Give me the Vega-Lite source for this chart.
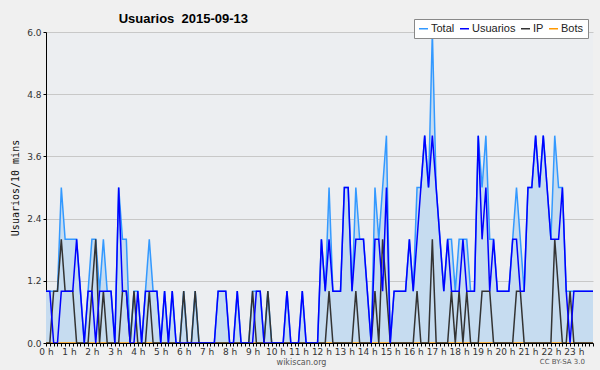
{
"$schema": "https://vega.github.io/schema/vega-lite/v6.json",
"width": 547, "height": 311,
"autosize": {"type": "none"},
"padding": {"left": 46, "top": 32, "right": 7, "bottom": 27},
"background": "#f0f0f0",
"view": {"fill": "#eceef1", "stroke": null},
"title": {"text": "Usuarios\u00a0 2015-09-13", "anchor": "start", "dx": 108, "dy": 16, "offset": 9, "font": "Liberation Sans", "fontSize": 13, "fontWeight": "bold", "color": "#000"},
"data": {"values": [
{"t":0,"Total":1,"Usuarios":1,"IP":0,"Bots":0},{"t":1,"Total":1,"Usuarios":1,"IP":0,"Bots":0},{"t":2,"Total":1,"Usuarios":0,"IP":1,"Bots":0},{"t":3,"Total":1,"Usuarios":0,"IP":1,"Bots":0},{"t":4,"Total":3,"Usuarios":1,"IP":2,"Bots":0},{"t":5,"Total":2,"Usuarios":1,"IP":1,"Bots":0},{"t":6,"Total":2,"Usuarios":1,"IP":1,"Bots":0},{"t":7,"Total":2,"Usuarios":1,"IP":1,"Bots":0},{"t":8,"Total":2,"Usuarios":2,"IP":0,"Bots":0},{"t":9,"Total":1,"Usuarios":1,"IP":0,"Bots":0},
{"t":10,"Total":0,"Usuarios":0,"IP":0,"Bots":0},{"t":11,"Total":1,"Usuarios":1,"IP":0,"Bots":0},{"t":12,"Total":2,"Usuarios":1,"IP":1,"Bots":0},{"t":13,"Total":2,"Usuarios":0,"IP":2,"Bots":0},{"t":14,"Total":1,"Usuarios":1,"IP":0,"Bots":0},{"t":15,"Total":2,"Usuarios":1,"IP":1,"Bots":0},{"t":16,"Total":1,"Usuarios":1,"IP":0,"Bots":0},{"t":17,"Total":1,"Usuarios":1,"IP":0,"Bots":0},{"t":18,"Total":0,"Usuarios":0,"IP":0,"Bots":0},{"t":19,"Total":3,"Usuarios":3,"IP":0,"Bots":0},
{"t":20,"Total":2,"Usuarios":1,"IP":1,"Bots":0},{"t":21,"Total":2,"Usuarios":1,"IP":1,"Bots":0},{"t":22,"Total":0,"Usuarios":0,"IP":0,"Bots":0},{"t":23,"Total":1,"Usuarios":0,"IP":1,"Bots":0},{"t":24,"Total":1,"Usuarios":1,"IP":0,"Bots":0},{"t":25,"Total":0,"Usuarios":0,"IP":0,"Bots":0},{"t":26,"Total":1,"Usuarios":1,"IP":0,"Bots":0},{"t":27,"Total":2,"Usuarios":1,"IP":1,"Bots":0},{"t":28,"Total":1,"Usuarios":1,"IP":0,"Bots":0},{"t":29,"Total":1,"Usuarios":1,"IP":0,"Bots":0},
{"t":30,"Total":0,"Usuarios":0,"IP":0,"Bots":0},{"t":31,"Total":1,"Usuarios":1,"IP":0,"Bots":0},{"t":32,"Total":0,"Usuarios":0,"IP":0,"Bots":0},{"t":33,"Total":1,"Usuarios":1,"IP":0,"Bots":0},{"t":34,"Total":0,"Usuarios":0,"IP":0,"Bots":0},{"t":35,"Total":0,"Usuarios":0,"IP":0,"Bots":0},{"t":36,"Total":1,"Usuarios":0,"IP":1,"Bots":0},{"t":37,"Total":0,"Usuarios":0,"IP":0,"Bots":0},{"t":38,"Total":0,"Usuarios":0,"IP":0,"Bots":0},{"t":39,"Total":1,"Usuarios":0,"IP":1,"Bots":0},
{"t":40,"Total":0,"Usuarios":0,"IP":0,"Bots":0},{"t":41,"Total":0,"Usuarios":0,"IP":0,"Bots":0},{"t":42,"Total":0,"Usuarios":0,"IP":0,"Bots":0},{"t":43,"Total":0,"Usuarios":0,"IP":0,"Bots":0},{"t":44,"Total":0,"Usuarios":0,"IP":0,"Bots":0},{"t":45,"Total":1,"Usuarios":1,"IP":0,"Bots":0},{"t":46,"Total":1,"Usuarios":1,"IP":0,"Bots":0},{"t":47,"Total":1,"Usuarios":1,"IP":0,"Bots":0},{"t":48,"Total":0,"Usuarios":0,"IP":0,"Bots":0},{"t":49,"Total":0,"Usuarios":0,"IP":0,"Bots":0},
{"t":50,"Total":1,"Usuarios":1,"IP":0,"Bots":0},{"t":51,"Total":0,"Usuarios":0,"IP":0,"Bots":0},{"t":52,"Total":0,"Usuarios":0,"IP":0,"Bots":0},{"t":53,"Total":0,"Usuarios":0,"IP":0,"Bots":0},{"t":54,"Total":1,"Usuarios":0,"IP":1,"Bots":0},{"t":55,"Total":1,"Usuarios":1,"IP":0,"Bots":0},{"t":56,"Total":1,"Usuarios":1,"IP":0,"Bots":0},{"t":57,"Total":0,"Usuarios":0,"IP":0,"Bots":0},{"t":58,"Total":1,"Usuarios":0,"IP":1,"Bots":0},{"t":59,"Total":0,"Usuarios":0,"IP":0,"Bots":0},
{"t":60,"Total":0,"Usuarios":0,"IP":0,"Bots":0},{"t":61,"Total":0,"Usuarios":0,"IP":0,"Bots":0},{"t":62,"Total":0,"Usuarios":0,"IP":0,"Bots":0},{"t":63,"Total":1,"Usuarios":1,"IP":0,"Bots":0},{"t":64,"Total":0,"Usuarios":0,"IP":0,"Bots":0},{"t":65,"Total":0,"Usuarios":0,"IP":0,"Bots":0},{"t":66,"Total":0,"Usuarios":0,"IP":0,"Bots":0},{"t":67,"Total":1,"Usuarios":1,"IP":0,"Bots":0},{"t":68,"Total":0,"Usuarios":0,"IP":0,"Bots":0},{"t":69,"Total":0,"Usuarios":0,"IP":0,"Bots":0},
{"t":70,"Total":0,"Usuarios":0,"IP":0,"Bots":0},{"t":71,"Total":0,"Usuarios":0,"IP":0,"Bots":0},{"t":72,"Total":2,"Usuarios":2,"IP":0,"Bots":0},{"t":73,"Total":1,"Usuarios":1,"IP":0,"Bots":0},{"t":74,"Total":3,"Usuarios":2,"IP":1,"Bots":0},{"t":75,"Total":1,"Usuarios":1,"IP":0,"Bots":0},{"t":76,"Total":1,"Usuarios":1,"IP":0,"Bots":0},{"t":77,"Total":1,"Usuarios":1,"IP":0,"Bots":0},{"t":78,"Total":3,"Usuarios":3,"IP":0,"Bots":0},{"t":79,"Total":3,"Usuarios":3,"IP":0,"Bots":0},
{"t":80,"Total":1,"Usuarios":1,"IP":0,"Bots":0},{"t":81,"Total":3,"Usuarios":2,"IP":1,"Bots":0},{"t":82,"Total":2,"Usuarios":2,"IP":0,"Bots":0},{"t":83,"Total":2,"Usuarios":2,"IP":0,"Bots":0},{"t":84,"Total":1,"Usuarios":1,"IP":0,"Bots":0},{"t":85,"Total":0,"Usuarios":0,"IP":0,"Bots":0},{"t":86,"Total":3,"Usuarios":2,"IP":1,"Bots":0},{"t":87,"Total":2,"Usuarios":2,"IP":0,"Bots":0},{"t":88,"Total":3,"Usuarios":1,"IP":2,"Bots":0},{"t":89,"Total":4,"Usuarios":3,"IP":1,"Bots":0},
{"t":90,"Total":0,"Usuarios":0,"IP":0,"Bots":0},{"t":91,"Total":1,"Usuarios":1,"IP":0,"Bots":0},{"t":92,"Total":1,"Usuarios":1,"IP":0,"Bots":0},{"t":93,"Total":1,"Usuarios":1,"IP":0,"Bots":0},{"t":94,"Total":1,"Usuarios":1,"IP":0,"Bots":0},{"t":95,"Total":2,"Usuarios":2,"IP":0,"Bots":0},{"t":96,"Total":1,"Usuarios":1,"IP":0,"Bots":0},{"t":97,"Total":3,"Usuarios":2,"IP":1,"Bots":0},{"t":98,"Total":3,"Usuarios":3,"IP":0,"Bots":0},{"t":99,"Total":4,"Usuarios":4,"IP":0,"Bots":0},
{"t":100,"Total":3,"Usuarios":3,"IP":0,"Bots":0},{"t":101,"Total":6,"Usuarios":4,"IP":2,"Bots":0},{"t":102,"Total":3,"Usuarios":3,"IP":0,"Bots":0},{"t":103,"Total":2,"Usuarios":2,"IP":0,"Bots":0},{"t":104,"Total":1,"Usuarios":1,"IP":0,"Bots":0},{"t":105,"Total":2,"Usuarios":2,"IP":0,"Bots":0},{"t":106,"Total":2,"Usuarios":1,"IP":1,"Bots":0},{"t":107,"Total":1,"Usuarios":1,"IP":0,"Bots":0},{"t":108,"Total":2,"Usuarios":1,"IP":1,"Bots":0},{"t":109,"Total":2,"Usuarios":2,"IP":0,"Bots":0},
{"t":110,"Total":2,"Usuarios":1,"IP":1,"Bots":0},{"t":111,"Total":1,"Usuarios":1,"IP":0,"Bots":0},{"t":112,"Total":1,"Usuarios":1,"IP":0,"Bots":0},{"t":113,"Total":4,"Usuarios":4,"IP":0,"Bots":0},{"t":114,"Total":3,"Usuarios":2,"IP":1,"Bots":0},{"t":115,"Total":4,"Usuarios":3,"IP":1,"Bots":0},{"t":116,"Total":2,"Usuarios":1,"IP":1,"Bots":0},{"t":117,"Total":2,"Usuarios":2,"IP":0,"Bots":0},{"t":118,"Total":1,"Usuarios":1,"IP":0,"Bots":0},{"t":119,"Total":1,"Usuarios":1,"IP":0,"Bots":0},
{"t":120,"Total":1,"Usuarios":1,"IP":0,"Bots":0},{"t":121,"Total":1,"Usuarios":1,"IP":0,"Bots":0},{"t":122,"Total":2,"Usuarios":2,"IP":0,"Bots":0},{"t":123,"Total":3,"Usuarios":2,"IP":1,"Bots":0},{"t":124,"Total":2,"Usuarios":1,"IP":1,"Bots":0},{"t":125,"Total":1,"Usuarios":1,"IP":0,"Bots":0},{"t":126,"Total":3,"Usuarios":3,"IP":0,"Bots":0},{"t":127,"Total":3,"Usuarios":3,"IP":0,"Bots":0},{"t":128,"Total":4,"Usuarios":4,"IP":0,"Bots":0},{"t":129,"Total":3,"Usuarios":3,"IP":0,"Bots":0},
{"t":130,"Total":4,"Usuarios":4,"IP":0,"Bots":0},{"t":131,"Total":3,"Usuarios":3,"IP":0,"Bots":0},{"t":132,"Total":2,"Usuarios":2,"IP":0,"Bots":0},{"t":133,"Total":4,"Usuarios":2,"IP":2,"Bots":0},{"t":134,"Total":3,"Usuarios":2,"IP":1,"Bots":0},{"t":135,"Total":3,"Usuarios":3,"IP":0,"Bots":0},{"t":136,"Total":1,"Usuarios":1,"IP":0,"Bots":0},{"t":137,"Total":1,"Usuarios":0,"IP":1,"Bots":0},{"t":138,"Total":1,"Usuarios":1,"IP":0,"Bots":0},{"t":139,"Total":1,"Usuarios":1,"IP":0,"Bots":0},
{"t":140,"Total":1,"Usuarios":1,"IP":0,"Bots":0},{"t":141,"Total":1,"Usuarios":1,"IP":0,"Bots":0},{"t":142,"Total":1,"Usuarios":1,"IP":0,"Bots":0},{"t":143,"Total":1,"Usuarios":1,"IP":0,"Bots":0}
]},
"encoding": {
  "x": {"field": "t", "type": "quantitative",
    "scale": {"domain": [0, 143], "nice": false, "zero": false},
    "axis": {
      "values": [0,1,2,3,4,5,6,7,8,9,10,11,12,13,14,15,16,17,18,19,20,21,22,23,24,25,26,27,28,29,30,31,32,33,34,35,36,37,38,39,40,41,42,43,44,45,46,47,48,49,50,51,52,53,54,55,56,57,58,59,60,61,62,63,64,65,66,67,68,69,70,71,72,73,74,75,76,77,78,79,80,81,82,83,84,85,86,87,88,89,90,91,92,93,94,95,96,97,98,99,100,101,102,103,104,105,106,107,108,109,110,111,112,113,114,115,116,117,118,119,120,121,122,123,124,125,126,127,128,129,130,131,132,133,134,135,136,137,138,139,140,141,142,143],
      "labelExpr": "datum.value % 6 == 0 ? (datum.value / 6) + ' h' : ''",
      "labelOverlap": false, "labelFlush": false, "grid": false, "zindex": 1,
      "domainColor": "#000000", "tickColor": "#000000", "tickSize": 3,
      "labelFont": "DejaVu Sans", "labelFontSize": 9, "labelColor": "#333333", "labelPadding": 1,
      "title": "wikiscan.org", "titleFont": "DejaVu Sans", "titleFontSize": 8, "titleFontWeight": "normal", "titleColor": "#555555", "titlePadding": 2, "titleX": 255
    }
  }
},
"layer": [
  {"mark": {"type": "area", "color": "#c6dcf0", "opacity": 1},
   "encoding": {"y": {"field": "Total", "type": "quantitative",
     "scale": {"domain": [0, 6], "nice": false, "zero": true},
     "axis": {
       "values": [0,0.3,0.6,0.9,1.2,1.5,1.8,2.1,2.4,2.7,3.0,3.3,3.6,3.9,4.2,4.5,4.8,5.1,5.4,5.7,6.0],
       "labelExpr": "abs(datum.value/1.2 - round(datum.value/1.2)) < 0.01 ? format(datum.value, '.1f') : ''",
       "grid": true, "gridColor": "#c8c8c8",
       "gridOpacity": {"condition": {"test": "abs(datum.value/1.2 - round(datum.value/1.2)) < 0.01", "value": 1}, "value": 0},
       "domainColor": "#000000", "tickColor": "#000000", "tickSize": 3,
       "labelFont": "DejaVu Sans", "labelFontSize": 9, "labelColor": "#333333", "labelPadding": 2, "labelOverlap": false,
       "title": "Usuarios/10 mins", "titleFont": "DejaVu Sans Mono", "titleFontSize": 10, "titleFontWeight": "normal", "titleColor": "#111111", "titlePadding": 6
     }}}},
  {"transform": [{"fold": ["Total", "Usuarios", "IP", "Bots"], "as": ["serie", "valor"]}, {"filter": "datum.serie == 'Bots'"}],
   "mark": {"type": "line", "strokeWidth": 1.5},
   "encoding": {"y": {"field": "valor", "type": "quantitative"},
     "color": {"field": "serie", "type": "nominal",
       "scale": {"domain": ["Total", "Usuarios", "IP", "Bots"], "range": ["#3399ff", "#0000ff", "#333333", "#ff9900"]},
       "legend": {"orient": "none", "legendX": 368, "legendY": -13, "direction": "horizontal", "title": null,
         "symbolType": "stroke", "symbolSize": 81, "symbolStrokeWidth": 1.5,
         "labelFont": "Liberation Sans", "labelFontSize": 11, "labelColor": "#222222", "labelOffset": 2,
         "fillColor": "#ffffff", "strokeColor": "#888888", "padding": 4, "columnPadding": 2}}}},
  {"transform": [{"fold": ["Total", "Usuarios", "IP", "Bots"], "as": ["serie", "valor"]}, {"filter": "datum.serie == 'Total'"}],
   "mark": {"type": "line", "strokeWidth": 1.5},
   "encoding": {"y": {"field": "valor", "type": "quantitative"}, "color": {"field": "serie", "type": "nominal"}}},
  {"transform": [{"fold": ["Total", "Usuarios", "IP", "Bots"], "as": ["serie", "valor"]}, {"filter": "datum.serie == 'IP'"}],
   "mark": {"type": "line", "strokeWidth": 1.5},
   "encoding": {"y": {"field": "valor", "type": "quantitative"}, "color": {"field": "serie", "type": "nominal"}}},
  {"transform": [{"fold": ["Total", "Usuarios", "IP", "Bots"], "as": ["serie", "valor"]}, {"filter": "datum.serie == 'Usuarios'"}],
   "mark": {"type": "line", "strokeWidth": 1.5},
   "encoding": {"y": {"field": "valor", "type": "quantitative"}, "color": {"field": "serie", "type": "nominal"}}},
  {"transform": [{"filter": "datum.t == 143"}],
   "mark": {"type": "text", "font": "DejaVu Sans", "fontSize": 7, "color": "#555555", "align": "center", "baseline": "middle"},
   "encoding": {"x": {"datum": 135}, "y": {"datum": -0.37}, "text": {"value": "CC BY-SA 3.0"}}}
]
}
